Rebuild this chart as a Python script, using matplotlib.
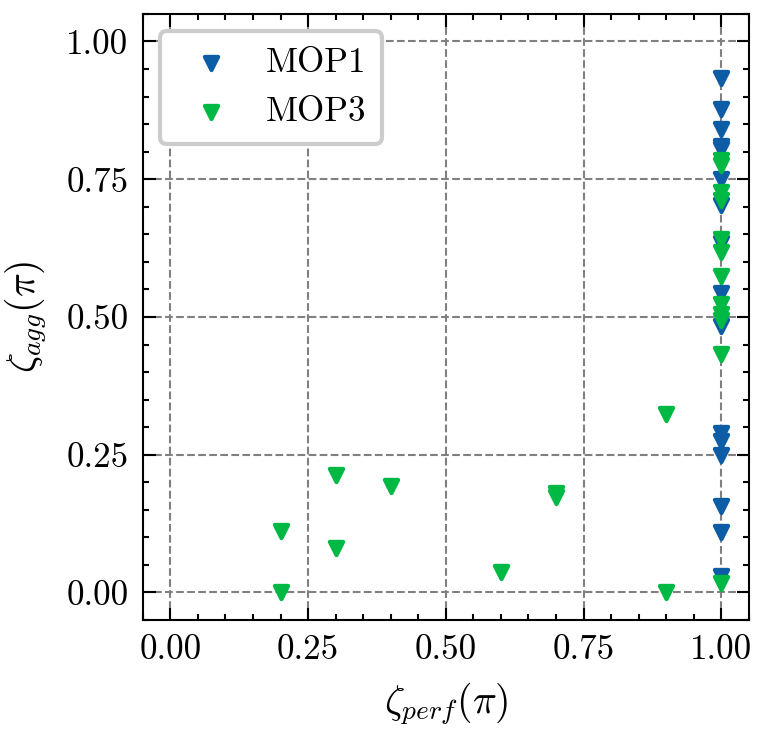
import numpy as np
import matplotlib
matplotlib.use('Agg')
import matplotlib.pyplot as plt
from matplotlib.ticker import MultipleLocator

# values
mop1_x = [1.0] * 16
mop1_y = [0.933, 0.878, 0.842, 0.811, 0.804, 0.750, 0.704, 0.635, 0.544, 0.483,
          0.290, 0.274, 0.250, 0.156, 0.109, 0.029]
mop3_x = [1.0, 1.0, 1.0, 1.0, 1.0, 1.0, 1.0, 1.0, 1.0, 1.0, 1.0, 1.0,
          0.2, 0.2, 0.3, 0.3, 0.4, 0.6, 0.7, 0.7, 0.9, 0.9]
mop3_y = [0.785, 0.775, 0.726, 0.713, 0.641, 0.617, 0.574, 0.523, 0.505, 0.495, 0.432, 0.018,
          0.111, 0.000, 0.214, 0.080, 0.193, 0.037, 0.181, 0.174, 0.323, 0.000]
ticks = [0.0, 0.25, 0.5, 0.75, 1.0]

plt.rcParams.update({
    'font.family': 'serif',
    'font.serif': ['cmr10'],
    'mathtext.fontset': 'cm',
    'axes.formatter.use_mathtext': True,
    'font.size': 8.4,
    'axes.linewidth': 0.5,
    'xtick.direction': 'in', 'ytick.direction': 'in',
    'xtick.top': True, 'ytick.right': True,
    'xtick.major.size': 3, 'ytick.major.size': 3,
    'xtick.minor.size': 1.5, 'ytick.minor.size': 1.5,
    'xtick.major.width': 0.5, 'ytick.major.width': 0.5,
    'xtick.minor.width': 0.5, 'ytick.minor.width': 0.5,
    'xtick.minor.visible': True, 'ytick.minor.visible': True,
})

fig = plt.figure(figsize=(2.56, 2.44), dpi=300)
ax = fig.add_axes([0.186, 0.153, 0.789, 0.828])
ax.set_axisbelow(True)
ax.grid(True, which='major', linestyle='--', color='gray', linewidth=0.5)

ax.scatter(mop1_x, mop1_y, marker='v', s=10, color='#0C5DA5', linewidths=1.0, label='MOP1')
ax.scatter(mop3_x, mop3_y, marker='v', s=10, color='#00B945', linewidths=1.0, label='MOP3')

ax.set_xlim(-0.05, 1.05)
ax.set_ylim(-0.05, 1.05)
ax.set_xticks(ticks)
ax.set_yticks(ticks)
ax.xaxis.set_minor_locator(MultipleLocator(0.05))
ax.yaxis.set_minor_locator(MultipleLocator(0.05))
ax.xaxis.set_major_formatter(plt.FormatStrFormatter('%.2f'))
ax.yaxis.set_major_formatter(plt.FormatStrFormatter('%.2f'))

ax.set_xlabel(r'$\zeta_{perf}(\pi)$', fontsize=9.5)
ax.set_ylabel(r'$\zeta_{agg}(\pi)$', fontsize=9.5)
ax.xaxis.set_label_coords(0.5, -0.10)
ax.yaxis.set_label_coords(-0.155, 0.5)

leg = ax.legend(loc='upper left', scatterpoints=1, frameon=True, framealpha=1,
                handletextpad=0.55, borderpad=0.45)
leg.get_frame().set_linewidth(1.0)

fig.savefig('out.png', dpi=300)
